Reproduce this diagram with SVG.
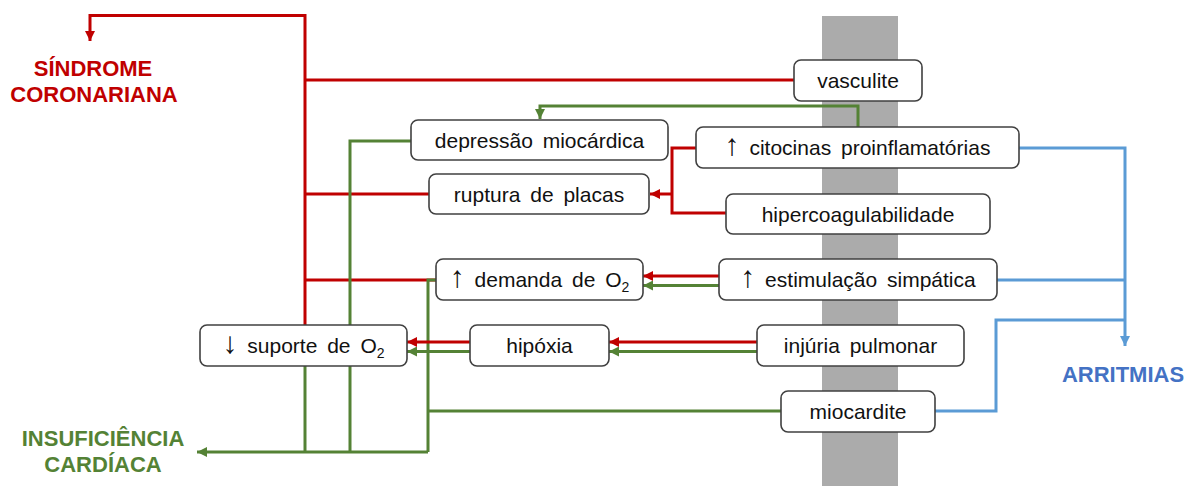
<svg xmlns="http://www.w3.org/2000/svg" width="1191" height="486" viewBox="0 0 1191 486">
<style>
.box{fill:#fff;stroke:#404040;stroke-width:1.6}
.t{font-family:"Liberation Sans",Arial,sans-serif;font-size:21px;fill:#111;text-anchor:middle;word-spacing:4px}
.sub{font-size:14px}
.arw{font-size:30px;font-weight:300}
.r{stroke:#C00000;stroke-width:3;fill:none}
.g{stroke:#548235;stroke-width:3;fill:none}
.b{stroke:#5B9BD5;stroke-width:3;fill:none}
.lab{font-family:"Liberation Sans",Arial,sans-serif;font-size:22px;font-weight:bold;text-anchor:middle}
</style>
<defs>
<marker id="ar" markerUnits="userSpaceOnUse" markerWidth="10" markerHeight="10" refX="10" refY="5" orient="auto"><path d="M0,0 L10,5 L0,10 z" fill="#C00000"/></marker>
<marker id="ag" markerUnits="userSpaceOnUse" markerWidth="10" markerHeight="10" refX="10" refY="5" orient="auto"><path d="M0,0 L10,5 L0,10 z" fill="#548235"/></marker>
<marker id="ab" markerUnits="userSpaceOnUse" markerWidth="10" markerHeight="10" refX="10" refY="5" orient="auto"><path d="M0,0 L10,5 L0,10 z" fill="#5B9BD5"/></marker>
</defs>
<rect x="822" y="16" width="76" height="470" fill="#ABABAB"/>
<g id="labels">
<text class="lab" fill="#C00000" x="93" y="76">SÍNDROME</text>
<text class="lab" fill="#C00000" x="94" y="102">CORONARIANA</text>
<text class="lab" fill="#548235" x="103" y="446">INSUFICIÊNCIA</text>
<text class="lab" fill="#548235" x="103" y="472">CARDÍACA</text>
<text class="lab" fill="#4472C4" x="1123" y="382">ARRITMIAS</text>
</g>
<g id="connectors">
<path class="r" d="M305,325 V15.5 H90 V41" marker-end="url(#ar)"/>
<path class="r" d="M305,80 H794"/>
<path class="r" d="M305,194 H429"/>
<path class="r" d="M305,280 H436"/>
<path class="r" d="M696,148 H672 V213 H726"/>
<path class="r" d="M672,194 H650" marker-end="url(#ar)"/>
<path class="g" d="M858,127 V106 H540 V119" marker-end="url(#ag)"/>
<path class="g" d="M411,141 H350 V452"/>
<path class="g" d="M305,366 V452"/>
<path class="g" d="M436,280 H428 V452"/>
<path class="g" d="M781,411 H428"/>
<path class="g" d="M428,452 H197" marker-end="url(#ag)"/>
<path class="r" d="M719,276 H643" marker-end="url(#ar)"/>
<path class="g" d="M719,285.5 H643" marker-end="url(#ag)"/>
<path class="r" d="M757,342 H609" marker-end="url(#ar)"/>
<path class="g" d="M757,351.5 H609" marker-end="url(#ag)"/>
<path class="r" d="M470,342 H407" marker-end="url(#ar)"/>
<path class="g" d="M470,351.5 H407" marker-end="url(#ag)"/>
<path class="b" d="M1019,148 H1125 V346" marker-end="url(#ab)"/>
<path class="b" d="M997,280 H1125"/>
<path class="b" d="M935,411 H996 V320 H1125"/>
</g>
<g id="vasculite"><rect class="box" x="794" y="60" width="128" height="41" rx="7"/><text class="t" x="858" y="88">vasculite</text></g>
<g id="depressao"><rect class="box" x="411" y="120" width="257" height="40" rx="7"/><text class="t" x="539.5" y="148">depressão miocárdica</text></g>
<g id="citocinas"><rect class="box" x="696" y="127" width="323" height="41" rx="7"/><text class="t" x="857.5" y="155"><tspan class="arw">↑</tspan> citocinas proinflamatórias</text></g>
<g id="ruptura"><rect class="box" x="429" y="174" width="220" height="40" rx="7"/><text class="t" x="539" y="202">ruptura de placas</text></g>
<g id="hipercoag"><rect class="box" x="726" y="194" width="264" height="40" rx="7"/><text class="t" x="858" y="222">hipercoagulabilidade</text></g>
<g id="demanda"><rect class="box" x="436" y="259" width="207" height="41" rx="7"/><text class="t" x="539.5" y="287"><tspan class="arw">↑</tspan> demanda de O<tspan class="sub" dy="5">2</tspan></text></g>
<g id="estimulacao"><rect class="box" x="719" y="259" width="278" height="41" rx="7"/><text class="t" x="858" y="287"><tspan class="arw">↑</tspan> estimulação simpática</text></g>
<g id="suporte"><rect class="box" x="200" y="325" width="207" height="41" rx="7"/><text class="t" x="303.5" y="353"><tspan class="arw">↓</tspan> suporte de O<tspan class="sub" dy="5">2</tspan></text></g>
<g id="hipoxia"><rect class="box" x="470" y="325" width="139" height="41" rx="7"/><text class="t" x="539.5" y="353">hipóxia</text></g>
<g id="injuria"><rect class="box" x="757" y="325" width="207" height="41" rx="7"/><text class="t" x="860.5" y="353">injúria pulmonar</text></g>
<g id="miocardite"><rect class="box" x="781" y="391" width="154" height="41" rx="7"/><text class="t" x="858" y="419">miocardite</text></g>
</svg>
